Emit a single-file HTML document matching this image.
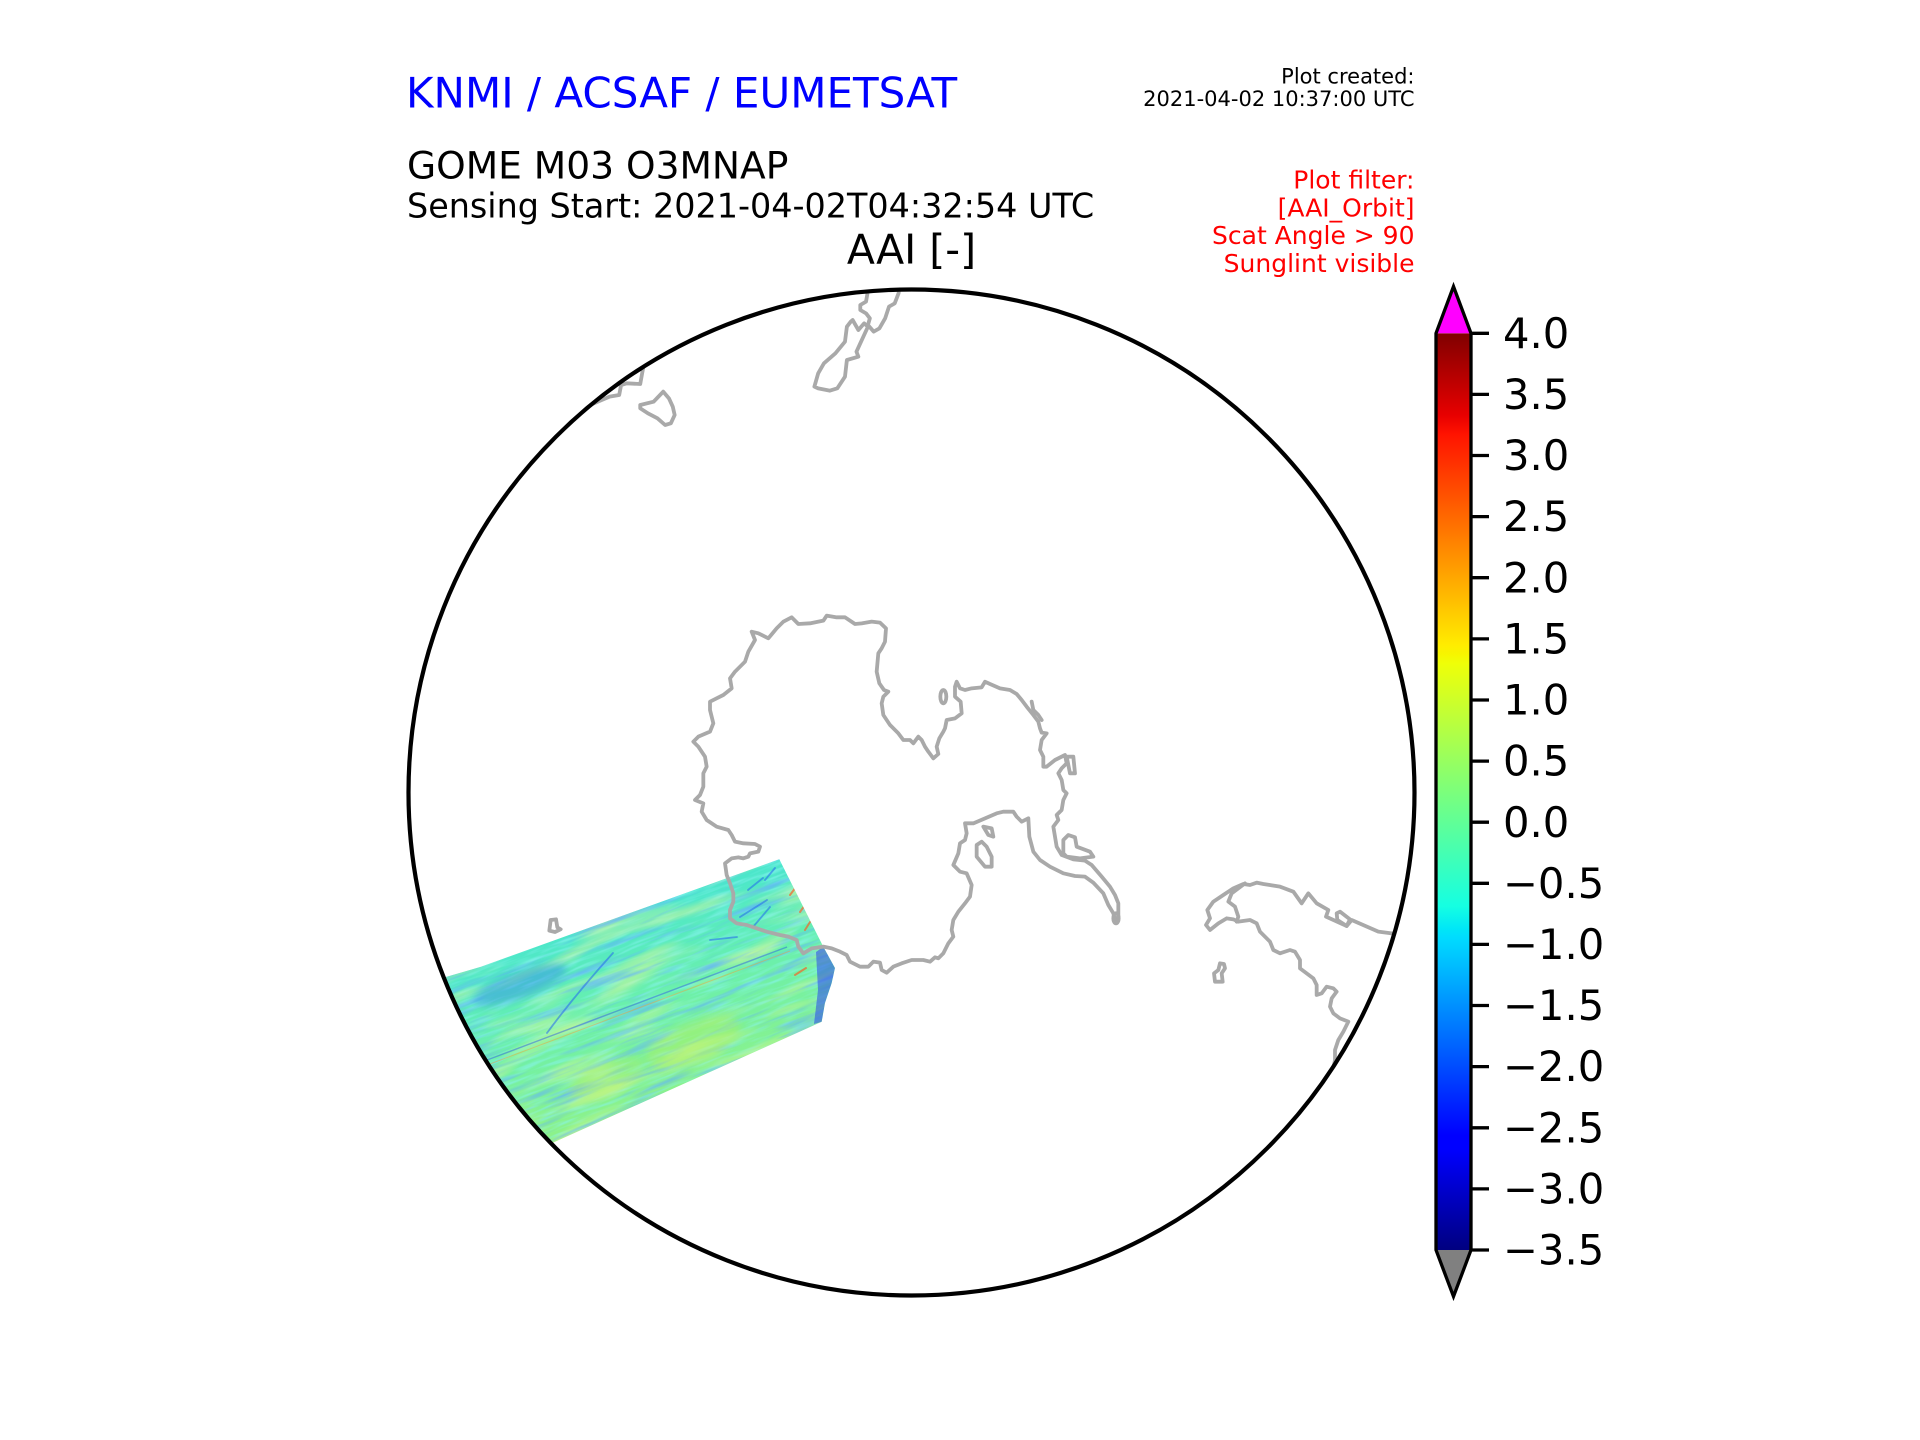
<!DOCTYPE html>
<html>
<head>
<meta charset="utf-8">
<style>
  html, body { margin: 0; padding: 0; background: #ffffff; }
  svg { display: block; }
  text { font-family: "DejaVu Sans", "Liberation Sans", sans-serif; }
</style>
</head>
<body>
<svg width="1920" height="1440" viewBox="0 0 1920 1440" xmlns="http://www.w3.org/2000/svg">
  <defs>
    <clipPath id="globe">
      <circle cx="911.5" cy="792.5" r="503"/>
    </clipPath>
    <clipPath id="swathClip">
      <polygon points="779.3,859.3 823.3,946.7 835,968 831.7,983 825,1003 821.7,1021.7 520,1157.5 400,1100 400,990 446.7,976.7 481,966.7"/>
    </clipPath>
    <linearGradient id="swathBase" gradientUnits="userSpaceOnUse" x1="700" y1="885" x2="760" y2="1075">
      <stop offset="0" stop-color="#4ae6cc"/>
      <stop offset="0.45" stop-color="#6af0ac"/>
      <stop offset="1" stop-color="#8ef288"/>
    </linearGradient>
    <linearGradient id="jet" x1="0" y1="1" x2="0" y2="0">
      <stop offset="0" stop-color="#000080"/>
      <stop offset="0.11" stop-color="#0000ff"/>
      <stop offset="0.125" stop-color="#0000ff"/>
      <stop offset="0.34" stop-color="#00dbff"/>
      <stop offset="0.35" stop-color="#00e6f7"/>
      <stop offset="0.375" stop-color="#15ffe2"/>
      <stop offset="0.64" stop-color="#efff08"/>
      <stop offset="0.65" stop-color="#f7f500"/>
      <stop offset="0.66" stop-color="#ffec00"/>
      <stop offset="0.89" stop-color="#ff1300"/>
      <stop offset="0.91" stop-color="#e80000"/>
      <stop offset="1" stop-color="#800000"/>
    </linearGradient>
    <filter id="soft" x="-20%" y="-20%" width="140%" height="140%">
      <feGaussianBlur stdDeviation="4"/>
    </filter>
    <filter id="noiseBlue" x="0" y="0" width="100%" height="100%">
      <feTurbulence type="fractalNoise" baseFrequency="0.012 0.14" numOctaves="3" seed="4"/>
      <feColorMatrix type="matrix" values="0 0 0 0 0.12  0 0 0 0 0.45  0 0 0 0 0.95  2.2 0 0 0 -1.15"/>
    </filter>
    <filter id="noiseYellow" x="0" y="0" width="100%" height="100%">
      <feTurbulence type="fractalNoise" baseFrequency="0.01 0.05" numOctaves="2" seed="11"/>
      <feColorMatrix type="matrix" values="0 0 0 0 0.78  0 0 0 0 0.95  0 0 0 0 0.3  0 1.8 0 0 -0.85"/>
    </filter>
    <filter id="noiseCyan" x="0" y="0" width="100%" height="100%">
      <feTurbulence type="fractalNoise" baseFrequency="0.03 0.3" numOctaves="2" seed="7"/>
      <feColorMatrix type="matrix" values="0 0 0 0 0.25  0 0 0 0 0.9  0 0 0 0 0.9  0 0 1.6 0 -0.7"/>
    </filter>
  </defs>

  <!-- Header texts -->
  <text x="406" y="107.7" font-size="42" fill="#0000ff">KNMI / ACSAF / EUMETSAT</text>
  <text x="1414.5" y="83.3" font-size="21" fill="#000000" text-anchor="end">Plot created:</text>
  <text x="1414.5" y="106" font-size="21" fill="#000000" text-anchor="end">2021-04-02 10:37:00 UTC</text>
  <text x="407" y="178.3" font-size="37.6" fill="#000000">GOME M03 O3MNAP</text>
  <text x="407" y="217.3" font-size="33.4" fill="#000000">Sensing Start: 2021-04-02T04:32:54 UTC</text>
  <text x="911.5" y="263.3" font-size="41" fill="#000000" text-anchor="middle">AAI [-]</text>
  <text x="1414.5" y="188.3" font-size="25" fill="#ff0000" text-anchor="end">Plot filter:</text>
  <text x="1414.5" y="216.5" font-size="25" fill="#ff0000" text-anchor="end">[AAI_Orbit]</text>
  <text x="1414.5" y="244.2" font-size="25" fill="#ff0000" text-anchor="end">Scat Angle &gt; 90</text>
  <text x="1414.5" y="271.8" font-size="25" fill="#ff0000" text-anchor="end">Sunglint visible</text>

  <!-- Map content clipped to globe -->
  <g clip-path="url(#globe)">
    <!-- Swath -->
    <g clip-path="url(#swathClip)">
      <rect x="400" y="850" width="450" height="320" fill="url(#swathBase)"/>
      <!-- textured noise layers rotated along track -->
      <g transform="rotate(-21 640 1000)">
        <rect x="380" y="820" width="520" height="360" filter="url(#noiseCyan)"/>
        <rect x="380" y="820" width="520" height="360" filter="url(#noiseYellow)"/>
        <rect x="380" y="820" width="520" height="360" filter="url(#noiseBlue)"/>
      </g>
      <!-- bluish upper-left region -->
      <ellipse cx="520" cy="985" rx="50" ry="13" transform="rotate(-20 520 985)" fill="#2f7ef0" opacity="0.4" filter="url(#soft)"/>
      <!-- yellow-green patches -->
      <ellipse cx="693" cy="1042" rx="50" ry="20" transform="rotate(-22 693 1042)" fill="#c0f050" opacity="0.35" filter="url(#soft)"/>
      <ellipse cx="607" cy="1078" rx="40" ry="16" transform="rotate(-22 607 1078)" fill="#b8f058" opacity="0.3" filter="url(#soft)"/>
      <!-- blue streaks -->
      <g stroke="#2466ee" stroke-width="1.8" fill="none" opacity="0.55" stroke-linecap="round">
        <path d="M547,1033 Q575,995 613,953"/>
        <path d="M740,917 L767,900"/>
        <path d="M753,927 L770,907"/>
        <path d="M710,940 L737,937"/>
        <path d="M765,880 L775,868"/>
        <path d="M748,890 L763,878"/>
      </g>
      <!-- thin diagonal line -->
      <path d="M487,1060 L787,947" stroke="#3060e0" stroke-width="1.4" opacity="0.5" fill="none"/>
      <path d="M490,1064 L790,951" stroke="#f0a030" stroke-width="1.1" opacity="0.45" fill="none"/>
      <!-- red streaks near top right -->
      <g stroke="#ff5a20" stroke-width="2" opacity="0.65" stroke-linecap="round">
        <path d="M790,895 L796,887"/>
        <path d="M800,912 L805,905"/>
        <path d="M805,930 L810,922"/>
        <path d="M795,975 L806,968"/>
      </g>
      <!-- right edge blue speckle band -->
      <polygon points="816,952 823.3,946.7 835,968 831.7,983 825,1003 821.7,1021.7 814,1024 818,990" fill="#2a46ea" opacity="0.55"/>
    </g>

    <!-- Coastlines -->
    <g fill="none" stroke="#a9a9a9" stroke-width="3.8" stroke-linejoin="round" stroke-linecap="round">
      <!-- Antarctica (zoom-10 coordinates) -->
      <g transform="translate(680,600) scale(0.333333)">
        <path vector-effect="non-scaling-stroke" d="M215,95 L235,100 L265,115 L290,85 L310,65 L335,52 L355,72 L390,70 L430,62 L440,47 L470,52 L495,52 L525,72 L545,70 L575,65 L600,68 L618,85 L615,125 L605,145 L595,160 L590,215 L598,250 L612,270 L625,275 L610,290 L605,310 L610,345 L630,375 L655,400 L670,420 L690,420 L700,430 L715,410 L725,420 L735,440 L745,455 L760,475 L775,462 L770,440 L778,415 L790,395 L795,385 L800,360 L825,355 L845,340 L842,305 L825,290 L825,260 L830,245 L840,265 L855,270 L875,265 L905,262 L915,245 L930,252 L960,265 L990,270 L1010,282 L1025,300 L1040,320 L1060,345 L1075,365 L1080,385 L1085,398 L1100,400 L1085,420 L1080,450 L1090,470 L1090,500 L1100,500 L1125,480 L1155,465 L1160,490 L1145,505 L1135,520 L1145,540 L1150,570 L1160,580 L1150,600 L1145,630 L1130,645 L1135,660 L1120,680 L1125,710 L1130,740 L1145,765 L1180,778 L1215,782 L1235,795 L1265,830 L1290,860 L1305,885 L1315,910 L1315,950 L1305,960 L1300,940 L1285,915 L1270,880 L1240,848 L1215,830 L1185,828 L1150,820 L1110,800 L1080,780 L1060,755 L1048,710 L1045,655 L1025,665 L1010,650 L1000,635 L970,635 L950,640 L915,655 L880,670 L855,670 L860,700 L855,720 L840,730 L835,760 L820,795 L840,815 L860,820 L875,855 L870,890 L855,910 L835,935 L820,960 L815,990 L820,1010 L805,1030 L790,1060 L775,1075 L765,1072 L750,1085 L730,1080 L695,1080 L665,1090 L640,1100 L620,1118 L605,1110 L600,1088 L580,1085 L565,1100 L540,1100 L510,1085 L500,1065 L480,1055 L455,1045 L430,1040 L395,1045 L370,1060 L355,1040 L350,1020 L325,1010 L300,1005 L260,995 L230,985 L200,975 L170,970 L150,955 L150,930 L160,905 L160,880 L150,850 L140,825 L135,790 L155,775 L175,772 L190,775 L205,770 L210,760 L235,755 L240,740 L225,732 L190,730 L165,725 L155,705 L145,690 L110,680 L80,660 L65,635 L70,610 L45,600 L60,585 L70,560 L70,520 L80,500 L75,470 L55,440 L40,425 L55,410 L90,395 L100,370 L90,330 L90,305 L110,295 L130,285 L155,265 L150,235 L165,215 L180,200 L195,185 L205,155 L225,120 Z"/>
        <ellipse vector-effect="non-scaling-stroke" cx="790" cy="290" rx="9" ry="20"/>
        <path vector-effect="non-scaling-stroke" d="M910,680 L935,685 L940,710 L925,705 Z"/>
        <path vector-effect="non-scaling-stroke" d="M890,735 L905,725 L920,740 L935,770 L935,800 L915,800 L890,770 Z"/>
        <path vector-effect="non-scaling-stroke" d="M1160,470 L1180,470 L1185,520 L1170,520 Z"/>
        <path vector-effect="non-scaling-stroke" d="M1055,305 L1060,330 L1075,345 L1085,360"/>
        <path vector-effect="non-scaling-stroke" d="M1150,760 L1150,720 L1165,705 L1185,712 L1190,740 L1230,755 L1240,770 L1200,775 L1160,770 Z"/>
        <ellipse vector-effect="non-scaling-stroke" cx="1308" cy="955" rx="8" ry="15"/>
      </g>
      <!-- South America tip (zoom-11 coordinates) -->
      <g transform="translate(1200,870) scale(0.333333)">
        <path vector-effect="non-scaling-stroke" d="M620,195 L575,190 L535,185 L455,150 L440,168 L378,140 L385,120 L350,100 L325,70 L305,100 L280,65 L240,50 L190,42 L170,38 L150,45 L130,42 L100,55 L70,75 L40,95 L22,120 L30,145 L18,165 L30,180 L55,160 L80,145 L100,148 L115,155 L150,150 L170,160 L180,185 L210,215 L220,240 L240,250 L270,240 L285,245 L300,270 L300,295 L320,310 L340,325 L350,345 L350,375 L365,370 L380,350 L400,355 L410,365 L395,385 L390,410 L400,430 L420,445 L445,455 L430,485 L415,510 L405,540 L405,570 L395,620"/>
        <path vector-effect="non-scaling-stroke" d="M135,40 L95,70 L85,95 L105,110 L115,140 L110,155"/>
        <path vector-effect="non-scaling-stroke" d="M410,130 L420,125 L450,148 L440,168 L412,150 Z"/>
        <path vector-effect="non-scaling-stroke" d="M45,335 L42,310 L55,300 L60,280 L72,282 L75,295 L65,310 L68,335 Z"/>
      </g>
      <!-- small island near swath (zoom-9 coordinates) -->
      <g transform="translate(420,840) scale(0.333333)">
        <path vector-effect="non-scaling-stroke" d="M388,272 L392,240 L408,238 L412,262 L422,268 L405,276 Z"/>
      </g>
      <!-- New Zealand / Tasmania / Australia (zoom-3 coordinates, non-uniform) -->
      <g transform="translate(380,260) scale(0.382700,0.333333)">
        <path vector-effect="non-scaling-stroke" d="M1235,180 L1230,185 L1220,200 L1215,245 L1190,280 L1160,310 L1145,340 L1135,380 L1145,385 L1175,392 L1195,385 L1215,350 L1220,300 L1250,290 L1245,275 L1255,250 L1265,225 L1275,200 L1265,190 L1250,210 Z"/>
        <path vector-effect="non-scaling-stroke" d="M1280,60 L1275,92 L1270,125 L1255,135 L1255,150 L1270,160 L1280,175 L1275,195 L1290,215 L1305,205 L1320,175 L1330,140 L1345,130 L1355,100 L1360,60"/>
        <path vector-effect="non-scaling-stroke" d="M680,435 L715,425 L740,395 L755,415 L765,440 L770,465 L760,490 L745,495 L725,475 L700,460 L680,445 Z"/>
        <path vector-effect="non-scaling-stroke" d="M500,460 L555,432 L600,410 L625,405 L630,375 L645,370 L680,372 L685,340 L690,310"/>
      </g>
    </g>
  </g>

  <!-- Globe outline -->
  <circle cx="911.5" cy="792.5" r="503" fill="none" stroke="#000000" stroke-width="4.2"/>

  <!-- Colorbar -->
  <rect x="1436" y="333.3" width="35" height="916.7" fill="url(#jet)"/>
  <polygon points="1436,333.3 1453.5,286.5 1471,333.3" fill="#ff00ff"/>
  <polygon points="1436,1250 1453.5,1296.5 1471,1250" fill="#808080"/>
  <path d="M1436,333.3 L1453.5,286.5 L1471,333.3 L1471,1250 L1453.5,1296.5 L1436,1250 Z" fill="none" stroke="#000000" stroke-width="3.3" stroke-linejoin="miter"/>
  <g stroke="#000000" stroke-width="3.3">
    <line x1="1471" y1="333.3" x2="1489" y2="333.3"/>
    <line x1="1471" y1="394.4" x2="1489" y2="394.4"/>
    <line x1="1471" y1="455.5" x2="1489" y2="455.5"/>
    <line x1="1471" y1="516.6" x2="1489" y2="516.6"/>
    <line x1="1471" y1="577.7" x2="1489" y2="577.7"/>
    <line x1="1471" y1="638.9" x2="1489" y2="638.9"/>
    <line x1="1471" y1="700.0" x2="1489" y2="700.0"/>
    <line x1="1471" y1="761.1" x2="1489" y2="761.1"/>
    <line x1="1471" y1="822.2" x2="1489" y2="822.2"/>
    <line x1="1471" y1="883.3" x2="1489" y2="883.3"/>
    <line x1="1471" y1="944.4" x2="1489" y2="944.4"/>
    <line x1="1471" y1="1005.5" x2="1489" y2="1005.5"/>
    <line x1="1471" y1="1066.6" x2="1489" y2="1066.6"/>
    <line x1="1471" y1="1127.8" x2="1489" y2="1127.8"/>
    <line x1="1471" y1="1188.9" x2="1489" y2="1188.9"/>
    <line x1="1471" y1="1250.0" x2="1489" y2="1250.0"/>
  </g>
  <g font-size="41.7" fill="#000000">
    <text x="1503" y="347.9">4.0</text>
    <text x="1503" y="409.0">3.5</text>
    <text x="1503" y="470.1">3.0</text>
    <text x="1503" y="531.2">2.5</text>
    <text x="1503" y="592.3">2.0</text>
    <text x="1503" y="653.5">1.5</text>
    <text x="1503" y="714.6">1.0</text>
    <text x="1503" y="775.7">0.5</text>
    <text x="1503" y="836.8">0.0</text>
    <text x="1503" y="897.9">−0.5</text>
    <text x="1503" y="959.0">−1.0</text>
    <text x="1503" y="1020.1">−1.5</text>
    <text x="1503" y="1081.2">−2.0</text>
    <text x="1503" y="1142.4">−2.5</text>
    <text x="1503" y="1203.5">−3.0</text>
    <text x="1503" y="1264.6">−3.5</text>
  </g>
</svg>
</body>
</html>
